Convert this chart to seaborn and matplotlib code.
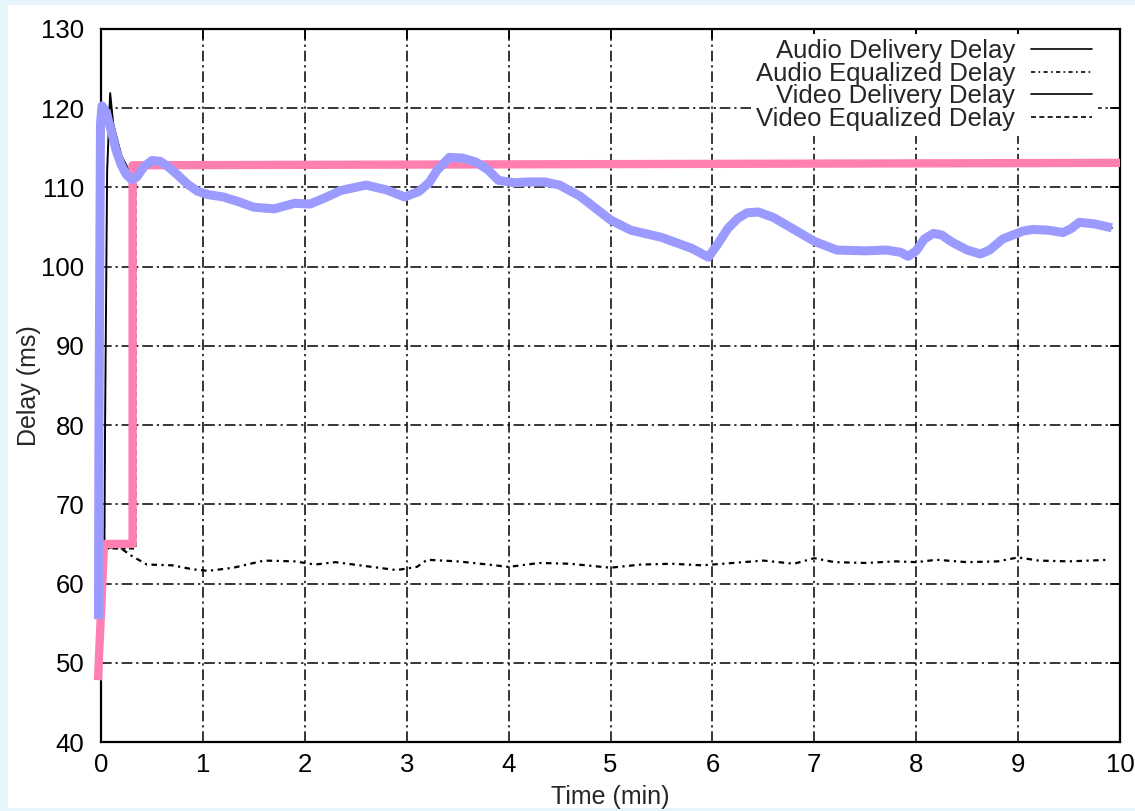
import matplotlib
matplotlib.use("Agg")
import matplotlib.pyplot as plt
from matplotlib.patches import Rectangle
from matplotlib.lines import Line2D
import seaborn as sns

# ---- data -----------------------------------------------------------------
# highlighted video delivery delay (thick lavender trace)
video_del_t = [-0.025, -0.02, -0.005, 0.01, 0.05, 0.1, 0.15, 0.2, 0.25, 0.3,
               0.35, 0.42, 0.5, 0.58, 0.66, 0.75, 0.85, 0.95, 1.05, 1.2, 1.35,
               1.5, 1.7, 1.9, 2.05, 2.2, 2.35, 2.6, 2.8, 2.98, 3.12, 3.22, 3.3,
               3.42, 3.55, 3.68, 3.8, 3.9, 4.05, 4.2, 4.35, 4.5, 4.7, 4.85, 5.0,
               5.2, 5.5, 5.8, 5.96, 6.05, 6.15, 6.25, 6.34, 6.45, 6.6, 6.8, 7.0,
               7.22, 7.5, 7.71, 7.85, 7.92, 8.0, 8.08, 8.17, 8.25, 8.35, 8.5,
               8.63, 8.72, 8.85, 9.05, 9.15, 9.3, 9.44, 9.52, 9.6, 9.75, 9.92]
video_del_v = [55.5, 80.0, 118.0, 120.3, 119.5, 117.2, 114.6, 112.8, 111.6, 111.0,
               111.3, 112.6, 113.4, 113.3, 112.6, 111.6, 110.4, 109.5, 109.1,
               108.8, 108.2, 107.5, 107.3, 108.0, 107.9, 108.7, 109.6, 110.3,
               109.7, 108.8, 109.5, 110.6, 112.2, 113.8, 113.7, 113.2, 112.2,
               110.9, 110.6, 110.7, 110.7, 110.3, 108.9, 107.4, 105.9, 104.6,
               103.7, 102.3, 101.2, 102.8, 104.8, 106.1, 106.8, 106.9, 106.2,
               104.7, 103.2, 102.1, 102.0, 102.1, 101.8, 101.3, 102.0, 103.5,
               104.2, 104.0, 103.1, 102.1, 101.6, 102.1, 103.5, 104.5, 104.7,
               104.6, 104.3, 104.8, 105.6, 105.4, 104.9]

# highlighted video equalized delay (thick pink trace)
video_eq_t = [-0.03, 0.03, 0.31, 0.31, 10.0]
video_eq_v = [47.8, 65.0, 65.0, 112.8, 113.1]

# audio delivery delay (start-up transient)
audio_del_t = [0.03, 0.04, 0.06, 0.09, 0.12, 0.2, 0.3]
audio_del_v = [56.0, 80.0, 112.0, 121.9, 118.0, 114.0, 111.5]

# audio equalized delay
audio_eq_t = [0.05, 0.2, 0.3, 0.45, 0.7, 0.9, 1.05, 1.3, 1.6, 1.9, 2.1, 2.3,
              2.6, 2.9, 3.1, 3.2, 3.5, 3.8, 4.0, 4.3, 4.6, 5.0, 5.3, 5.6, 5.9,
              6.2, 6.5, 6.8, 7.0, 7.2, 7.5, 7.8, 8.0, 8.2, 8.5, 8.8, 9.0, 9.2,
              9.5, 9.9]
audio_eq_v = [64.6, 64.4, 63.5, 62.4, 62.3, 61.8, 61.6, 62.0, 62.9, 62.8, 62.4,
              62.7, 62.2, 61.7, 62.1, 63.0, 62.8, 62.4, 62.1, 62.6, 62.5, 62.0,
              62.4, 62.5, 62.3, 62.6, 62.9, 62.5, 63.2, 62.7, 62.6, 62.8, 62.7,
              63.0, 62.7, 62.8, 63.3, 62.9, 62.8, 63.0]

x_ticks = list(range(0, 11))
y_ticks = list(range(40, 131, 10))
legend_labels = ["Audio Delivery Delay", "Audio Equalized Delay",
                 "Video Delivery Delay", "Video Equalized Delay"]

# ---- styling --------------------------------------------------------------
sns.set_style("white")
plt.rcParams["font.family"] = ["Liberation Sans", "DejaVu Sans"]

fig = plt.figure(figsize=(11.35, 8.11), dpi=100)
fig.patch.set_facecolor("#e6f4fc")
fig.add_artist(Rectangle((8 / 1135, 3 / 811), 1.0, 803 / 811,
                         transform=fig.transFigure, facecolor="white",
                         edgecolor="none", zorder=0))

ax = fig.add_axes([101 / 1135, 1 - 742 / 811, 1019 / 1135, 713 / 811])
ax.set_facecolor("white")

dashdot = (0, (7, 2.5, 1.5, 2.5))
dotdash_series = (0, (2.5, 2, 1, 2))

# thin black series
sns.lineplot(x=audio_eq_t, y=audio_eq_v, ax=ax, color="black", lw=1.6,
             linestyle=dotdash_series, sort=False, estimator=None, zorder=3)
sns.lineplot(x=audio_del_t, y=audio_del_v, ax=ax, color="black", lw=1.4,
             sort=False, estimator=None, zorder=3)
sns.lineplot(x=video_del_t, y=video_del_v, ax=ax, color="black", lw=1.4,
             sort=False, estimator=None, zorder=3)
sns.lineplot(x=[0.03, 0.34, 0.34, 0.34, 10.0], y=[64.4, 64.4, 89.0, 113.0, 113.1],
             ax=ax, color="black", lw=1.2, linestyle=(0, (3, 2)),
             sort=False, estimator=None, zorder=3)

# thick highlight traces
sns.lineplot(x=video_eq_t, y=video_eq_v, ax=ax, color="#ff80b0", lw=6,
             sort=False, estimator=None, zorder=4, clip_on=False)
sns.lineplot(x=video_del_t, y=video_del_v, ax=ax, color="#9b9bff", lw=6.5,
             sort=False, estimator=None, zorder=5, clip_on=False)
for ln in ax.lines[-2:]:
    ln.set_solid_capstyle("butt")
    ln.set_solid_joinstyle("round")

ax.set_xlim(0, 10)
ax.set_ylim(40, 130)
ax.set_xticks(x_ticks)
ax.set_yticks(y_ticks)
ax.set_xticklabels([str(t) for t in x_ticks])
ax.set_yticklabels([str(t) for t in y_ticks])
ax.tick_params(axis="both", direction="in", length=7, width=1.2, colors="black",
               labelsize=18.5, top=True, right=True)
ax.tick_params(axis="y", pad=12)
ax.tick_params(axis="x", pad=8)
ax.grid(True, color="black", lw=1.1, linestyle=dashdot)
for s in ax.spines.values():
    s.set_visible(True)
    s.set_color("black")
    s.set_linewidth(1.6)
ax.set_xlabel("Time (min)", fontsize=18, labelpad=6)
ax.set_ylabel("Delay (ms)", fontsize=18, labelpad=0)

handles = [
    Line2D([], [], color="black", lw=1.2),
    Line2D([], [], color="black", lw=1.2, linestyle=dotdash_series),
    Line2D([], [], color="black", lw=1.2),
    Line2D([], [], color="black", lw=1.2, linestyle=(0, (3, 2))),
]
leg = ax.legend(handles, legend_labels, loc="upper right",
                bbox_to_anchor=(0.978, 0.993), frameon=True,
                fontsize=18.5, markerfirst=False, handlelength=2.4,
                labelspacing=-0.06, handletextpad=0.6, borderaxespad=0.0,
                borderpad=0.2)
leg.get_frame().set_facecolor("white")
leg.get_frame().set_edgecolor("none")
leg.get_frame().set_alpha(1.0)
for t in leg.get_texts():
    t.set_ha("right")
leg.set_zorder(10)

fig.savefig("out.png", dpi=100, facecolor=fig.get_facecolor())
